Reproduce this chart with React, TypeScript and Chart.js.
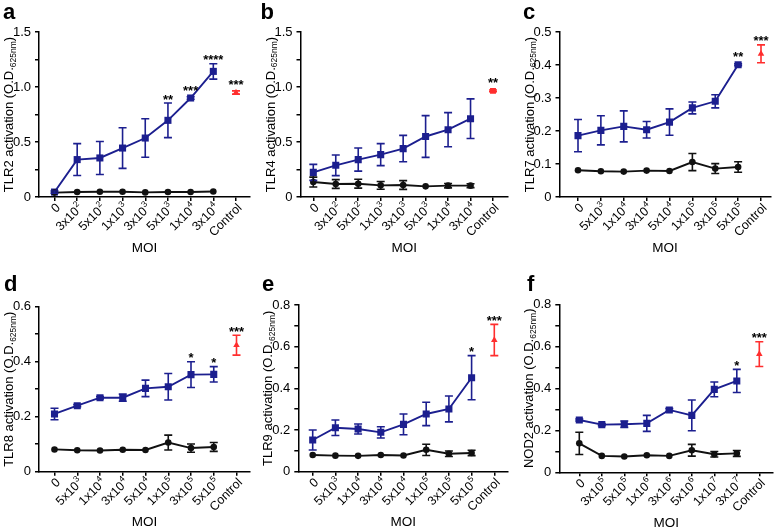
import { useEffect, useRef } from "react";
import Chart from "chart.js/auto";

const FONT = '"Liberation Sans", Arial, Helvetica, sans-serif';
const BLUE = "#1c1f8f";
const RED = "#ff2e2e";
const BLACK = "#111111";

// ---------- Panel a : TLR2 ----------
const moiA = ["0", "3x10^2", "5x10^2", "1x10^3", "3x10^3", "5x10^3", "1x10^4", "3x10^4", "Control"];
const tlr2Stim = [0.045, 0.34, 0.355, 0.445, 0.536, 0.697, 0.9, 1.142];
const tlr2StimErr = [0.01, 0.145, 0.15, 0.185, 0.175, 0.157, 0.012, 0.07];
const tlr2Null = [0.04, 0.045, 0.048, 0.048, 0.042, 0.045, 0.045, 0.05];
const tlr2NullErr = [0, 0, 0, 0, 0, 0, 0, 0];
const tlr2Pos = [0.95];
const tlr2PosErr = [0.015];
const tlr2Stars = ["", "", "", "", "", "**", "***", "****", "***"];

// ---------- Panel b : TLR4 ----------
const moiB = ["0", "3x10^2", "5x10^2", "1x10^3", "3x10^3", "5x10^3", "1x10^4", "3x10^4", "Control"];
const tlr4Stim = [0.224, 0.288, 0.34, 0.385, 0.44, 0.55, 0.612, 0.712];
const tlr4StimErr = [0.073, 0.094, 0.105, 0.1, 0.12, 0.19, 0.155, 0.18];
const tlr4Null = [0.136, 0.118, 0.121, 0.106, 0.109, 0.097, 0.103, 0.103];
const tlr4NullErr = [0.045, 0.04, 0.04, 0.035, 0.04, 0, 0.02, 0.018];
const tlr4Pos = [0.965];
const tlr4PosErr = [0.008];
const tlr4Stars = ["", "", "", "", "", "", "", "", "**"];

// ---------- Panel c : TLR7 ----------
const moiC = ["0", "5x10^3", "1x10^4", "3x10^4", "5x10^4", "1x10^5", "3x10^5", "5x10^5", "Control"];
const tlr7Stim = [0.186, 0.202, 0.214, 0.204, 0.227, 0.27, 0.29, 0.401];
const tlr7StimErr = [0.049, 0.044, 0.047, 0.025, 0.04, 0.018, 0.02, 0.003];
const tlr7Null = [0.081, 0.078, 0.077, 0.08, 0.079, 0.106, 0.086, 0.091];
const tlr7NullErr = [0, 0, 0, 0, 0, 0.026, 0.015, 0.016];
const tlr7Pos = [0.434];
const tlr7PosErr = [0.027];
const tlr7Stars = ["", "", "", "", "", "", "", "**", "***"];

// ---------- Panel d : TLR8 ----------
const moiD = ["0", "5x10^3", "1x10^4", "3x10^4", "5x10^4", "1x10^5", "3x10^5", "5x10^5", "Control"];
const tlr8Stim = [0.21, 0.24, 0.269, 0.269, 0.303, 0.309, 0.353, 0.354];
const tlr8StimErr = [0.021, 0.004, 0.004, 0.013, 0.03, 0.048, 0.047, 0.028];
const tlr8Null = [0.081, 0.078, 0.077, 0.08, 0.079, 0.106, 0.086, 0.09];
const tlr8NullErr = [0, 0, 0, 0, 0, 0.027, 0.015, 0.016];
const tlr8Pos = [0.46];
const tlr8PosErr = [0.036];
const tlr8Stars = ["", "", "", "", "", "", "*", "*", "***"];

// ---------- Panel e : TLR9 ----------
const moiE = ["0", "5x10^3", "1x10^4", "3x10^4", "5x10^4", "1x10^5", "3x10^5", "5x10^5", "Control"];
const tlr9Stim = [0.152, 0.211, 0.205, 0.189, 0.227, 0.277, 0.301, 0.451];
const tlr9StimErr = [0.048, 0.037, 0.024, 0.027, 0.05, 0.056, 0.062, 0.106];
const tlr9Null = [0.08, 0.077, 0.076, 0.08, 0.078, 0.105, 0.086, 0.09];
const tlr9NullErr = [0, 0, 0, 0, 0, 0.027, 0.013, 0.013];
const tlr9Pos = [0.632];
const tlr9PosErr = [0.075];
const tlr9Stars = ["", "", "", "", "", "", "", "*", "***"];

// ---------- Panel f : NOD2 ----------
const moiF = ["0", "3x10^5", "5x10^5", "1x10^6", "3x10^6", "5x10^6", "1x10^7", "3x10^7", "Control"];
const nod2Stim = [0.249, 0.227, 0.229, 0.233, 0.297, 0.271, 0.395, 0.435];
const nod2StimErr = [0.005, 0.005, 0.015, 0.038, 0.006, 0.073, 0.035, 0.055];
const nod2Null = [0.138, 0.078, 0.075, 0.081, 0.078, 0.105, 0.086, 0.09];
const nod2NullErr = [0.053, 0, 0, 0, 0, 0.028, 0.013, 0.014];
const nod2Pos = [0.563];
const nod2PosErr = [0.059];
const nod2Stars = ["", "", "", "", "", "", "", "*", "***"];

type Panel = {
  letter: string;
  receptor: string;
  labels: string[];
  stim: number[];
  stimErr: number[];
  nul: number[];
  nulErr: number[];
  pos: number[];
  posErr: number[];
  stars: string[];
  yMax: number;
  yMajor: number;
  yMinor: number;
  decimals: number;
  posStyle: "rect" | "triangle";
  // layout (page pixels)
  left: number;
  top: number;
  w: number;
  h: number;
  axisX: number;
  plotTop: number;
  plotBottom: number;
  firstX: number;
  lastX: number;
  endX: number;
  letterX: number;
  letterY: number;
};

const panels: Panel[] = [
  {
    letter: "a", receptor: "TLR2", labels: moiA, stim: tlr2Stim, stimErr: tlr2StimErr, nul: tlr2Null, nulErr: tlr2NullErr,
    pos: tlr2Pos, posErr: tlr2PosErr, stars: tlr2Stars, yMax: 1.5, yMajor: 0.5, yMinor: 0.25, decimals: 1, posStyle: "triangle",
    left: 0, top: 0, w: 260, h: 265, axisX: 39, plotTop: 32, plotBottom: 197, firstX: 54.5, lastX: 236, endX: 250, letterX: 3, letterY: 18.5,
  },
  {
    letter: "b", receptor: "TLR4", labels: moiB, stim: tlr4Stim, stimErr: tlr4StimErr, nul: tlr4Null, nulErr: tlr4NullErr,
    pos: tlr4Pos, posErr: tlr4PosErr, stars: tlr4Stars, yMax: 1.5, yMajor: 0.5, yMinor: 0.25, decimals: 1, posStyle: "rect",
    left: 260, top: 0, w: 260, h: 265, axisX: 300.5, plotTop: 32, plotBottom: 197, firstX: 313.3, lastX: 493, endX: 508, letterX: 260.5, letterY: 18.5,
  },
  {
    letter: "c", receptor: "TLR7", labels: moiC, stim: tlr7Stim, stimErr: tlr7StimErr, nul: tlr7Null, nulErr: tlr7NullErr,
    pos: tlr7Pos, posErr: tlr7PosErr, stars: tlr7Stars, yMax: 0.5, yMajor: 0.1, yMinor: 0.1, decimals: 1, posStyle: "triangle",
    left: 520, top: 0, w: 260, h: 265, axisX: 559.5, plotTop: 32, plotBottom: 197, firstX: 578, lastX: 761, endX: 770.5, letterX: 523, letterY: 18.5,
  },
  {
    letter: "d", receptor: "TLR8", labels: moiD, stim: tlr8Stim, stimErr: tlr8StimErr, nul: tlr8Null, nulErr: tlr8NullErr,
    pos: tlr8Pos, posErr: tlr8PosErr, stars: tlr8Stars, yMax: 0.6, yMajor: 0.2, yMinor: 0.1, decimals: 1, posStyle: "triangle",
    left: 0, top: 265, w: 260, h: 264, axisX: 39, plotTop: 306.7, plotBottom: 471.7, firstX: 54.5, lastX: 236.5, endX: 250, letterX: 4, letterY: 290.7,
  },
  {
    letter: "e", receptor: "TLR9", labels: moiE, stim: tlr9Stim, stimErr: tlr9StimErr, nul: tlr9Null, nulErr: tlr9NullErr,
    pos: tlr9Pos, posErr: tlr9PosErr, stars: tlr9Stars, yMax: 0.8, yMajor: 0.2, yMinor: 0.1, decimals: 1, posStyle: "triangle",
    left: 260, top: 265, w: 260, h: 264, axisX: 298.3, plotTop: 305, plotBottom: 471.7, firstX: 312.7, lastX: 494.3, endX: 508, letterX: 262, letterY: 290.7,
  },
  {
    letter: "f", receptor: "NOD2", labels: moiF, stim: nod2Stim, stimErr: nod2StimErr, nul: nod2Null, nulErr: nod2NullErr,
    pos: nod2Pos, posErr: nod2PosErr, stars: nod2Stars, yMax: 0.8, yMajor: 0.2, yMinor: 0.1, decimals: 1, posStyle: "triangle",
    left: 520, top: 265, w: 260, h: 264, axisX: 559.3, plotTop: 304.3, plotBottom: 472.3, firstX: 579.3, lastX: 759.3, endX: 773, letterX: 527, letterY: 290.7,
  },
];

function drawXLabel(ctx: CanvasRenderingContext2D, label: string, x: number, y: number) {
  const [base, exp] = label.split("^");
  ctx.save();
  ctx.translate(x, y);
  ctx.rotate(-Math.PI / 4);
  ctx.textBaseline = "middle";
  ctx.textAlign = "left";
  ctx.fillStyle = "#000";
  ctx.font = `12.5px ${FONT}`;
  const wb = ctx.measureText(base).width;
  let we = 0;
  if (exp) {
    ctx.font = `8.5px ${FONT}`;
    we = ctx.measureText(exp).width + 0.5;
  }
  const start = -(wb + we);
  ctx.font = `12.5px ${FONT}`;
  ctx.fillText(base, start, 0);
  if (exp) {
    ctx.font = `8.5px ${FONT}`;
    ctx.fillText(exp, start + wb + 0.5, -4.5);
  }
  ctx.restore();
}

function drawYTitle(ctx: CanvasRenderingContext2D, receptor: string, x: number, yc: number) {
  const main = `${receptor} activation (O.D.`;
  const sub = "625nm";
  ctx.save();
  ctx.translate(x, yc);
  ctx.rotate(-Math.PI / 2);
  ctx.textBaseline = "alphabetic";
  ctx.textAlign = "left";
  ctx.fillStyle = "#000";
  ctx.font = `13px ${FONT}`;
  const w1 = ctx.measureText(main).width;
  const w3 = ctx.measureText(")").width;
  ctx.font = `8.5px ${FONT}`;
  const w2 = ctx.measureText(sub).width;
  const start = -(w1 + w2 + w3) / 2;
  ctx.font = `13px ${FONT}`;
  ctx.fillText(main, start, 0);
  ctx.font = `8.5px ${FONT}`;
  ctx.fillText(sub, start + w1, 2.5);
  ctx.font = `13px ${FONT}`;
  ctx.fillText(")", start + w1 + w2, 0);
  ctx.restore();
}

function PanelChart({ p }: { p: Panel }) {
  const ref = useRef<HTMLCanvasElement>(null);
  useEffect(() => {
    const canvas = ref.current;
    if (!canvas) return;
    const spacing = (p.lastX - p.firstX) / 8;
    const xMin = -(p.firstX - p.axisX) / spacing;
    const xMax = 8 + (p.endX - p.lastX) / spacing;
    const yAxisW = p.axisX - p.left;
    const xAxisH = p.top + p.h - p.plotBottom;
    const nMinor = Math.round(p.yMax / p.yMinor);

    const series = [
      { vals: p.stim, errs: p.stimErr, color: BLUE, offset: 0 },
      { vals: p.nul, errs: p.nulErr, color: BLACK, offset: 0 },
      { vals: p.pos, errs: p.posErr, color: RED, offset: 8 },
    ];

    const decor = {
      id: "decor",
      afterDatasetsDraw(chart: any) {
        const ctx: CanvasRenderingContext2D = chart.ctx;
        const xs = chart.scales.x;
        const ys = chart.scales.y;
        ctx.save();
        ctx.lineWidth = 1.6;
        series.forEach((s) => {
          ctx.strokeStyle = s.color;
          s.vals.forEach((v, i) => {
            const e = s.errs[i];
            if (!e) return;
            const x = xs.getPixelForValue(i + s.offset);
            const yt = ys.getPixelForValue(v + e);
            const yb = ys.getPixelForValue(v - e);
            ctx.beginPath();
            ctx.moveTo(x, yt);
            ctx.lineTo(x, yb);
            ctx.moveTo(x - 4, yt);
            ctx.lineTo(x + 4, yt);
            ctx.moveTo(x - 4, yb);
            ctx.lineTo(x + 4, yb);
            ctx.stroke();
          });
        });
        ctx.restore();
      },
      afterDraw(chart: any) {
        const ctx: CanvasRenderingContext2D = chart.ctx;
        const xs = chart.scales.x;
        const ys = chart.scales.y;
        const area = chart.chartArea;
        ctx.save();
        // panel letter
        ctx.fillStyle = "#000";
        ctx.font = `bold 22px ${FONT}`;
        ctx.textAlign = "left";
        ctx.textBaseline = "alphabetic";
        ctx.fillText(p.letter, p.letterX - p.left, p.letterY - p.top);
        // x tick labels
        p.labels.forEach((lab, i) => {
          drawXLabel(ctx, lab, xs.getPixelForValue(i) + 4, area.bottom + 9);
        });
        // x title
        ctx.fillStyle = "#000";
        ctx.font = `13.5px ${FONT}`;
        ctx.textAlign = "center";
        ctx.textBaseline = "middle";
        ctx.fillText("MOI", (area.left + area.right) / 2, area.bottom + 51);
        // y title
        drawYTitle(ctx, p.receptor, area.left - 26, (area.top + area.bottom) / 2);
        // stars
        ctx.font = `bold 13px ${FONT}`;
        ctx.textAlign = "center";
        ctx.textBaseline = "alphabetic";
        p.stars.forEach((st, i) => {
          if (!st) return;
          const v = i < 8 ? p.stim[i] : p.pos[0];
          const e = i < 8 ? p.stimErr[i] : p.posErr[0];
          const x = xs.getPixelForValue(i);
          const top = Math.min(ys.getPixelForValue(v + e), ys.getPixelForValue(v) - 4);
          ctx.fillText(st, x, top + 0.5);
        });
        ctx.restore();
      },
    };

    const gridOpts = {
      display: true,
      drawOnChartArea: false,
      drawTicks: true,
      tickLength: 4,
      color: "#000",
      lineWidth: 1.5,
    };

    const chart = new Chart(canvas, {
      type: "line",
      data: {
        datasets: [
          {
            data: p.nul.map((v, i) => ({ x: i, y: v })),
            borderColor: BLACK,
            backgroundColor: BLACK,
            borderWidth: 1.9,
            pointStyle: "circle",
            pointRadius: 3.3,
            pointBorderWidth: 0,
            tension: 0,
          },
          {
            data: p.stim.map((v, i) => ({ x: i, y: v })),
            borderColor: BLUE,
            backgroundColor: BLUE,
            borderWidth: 1.9,
            pointStyle: "rect",
            pointRadius: 5,
            pointBorderWidth: 0,
            tension: 0,
          },
          {
            data: p.pos.map((v) => ({ x: 8, y: v })),
            borderColor: RED,
            backgroundColor: RED,
            showLine: false,
            pointStyle: p.posStyle,
            pointRadius: p.posStyle === "rect" ? 4.2 : 3.8,
            pointBorderWidth: 0,
          },
        ],
      } as any,
      options: {
        animation: false,
        responsive: false,
        maintainAspectRatio: false,
        layout: {
          padding: { left: 0, right: p.left + p.w - p.endX, top: p.plotTop - p.top, bottom: 0 },
        },
        plugins: { legend: { display: false }, tooltip: { enabled: false } },
        scales: {
          x: {
            type: "linear",
            min: xMin,
            max: xMax,
            afterBuildTicks: (axis: any) => {
              axis.ticks = p.labels.map((_, i) => ({ value: i }));
            },
            ticks: { display: false },
            grid: gridOpts,
            border: { display: true, color: "#000", width: 1.5 },
            afterFit: (s: any) => {
              s.height = xAxisH;
            },
          },
          y: {
            type: "linear",
            min: 0,
            max: p.yMax,
            afterBuildTicks: (axis: any) => {
              const t = [];
              for (let k = 0; k <= nMinor; k++) t.push({ value: +(k * p.yMinor).toFixed(4) });
              axis.ticks = t;
            },
            ticks: {
              color: "#000",
              font: { family: FONT, size: 13 },
              padding: 4,
              callback: (v: any) => {
                const val = Number(v);
                const r = val / p.yMajor;
                if (Math.abs(r - Math.round(r)) > 1e-6) return "";
                return val === 0 ? "0" : val.toFixed(p.decimals);
              },
            },
            grid: gridOpts,
            border: { display: true, color: "#000", width: 1.5 },
            afterFit: (s: any) => {
              s.width = yAxisW;
            },
          },
        },
      } as any,
      plugins: [decor],
    });
    return () => chart.destroy();
  }, [p]);

  return (
    <canvas
      ref={ref}
      width={p.w}
      height={p.h}
      style={{ position: "absolute", left: p.left, top: p.top, width: p.w, height: p.h }}
    />
  );
}

export default function App() {
  return (
    <div style={{ position: "fixed", left: 0, top: 0, width: 780, height: 529, background: "#fff", overflow: "hidden" }}>
      {panels.map((p) => (
        <PanelChart key={p.letter} p={p} />
      ))}
    </div>
  );
}
